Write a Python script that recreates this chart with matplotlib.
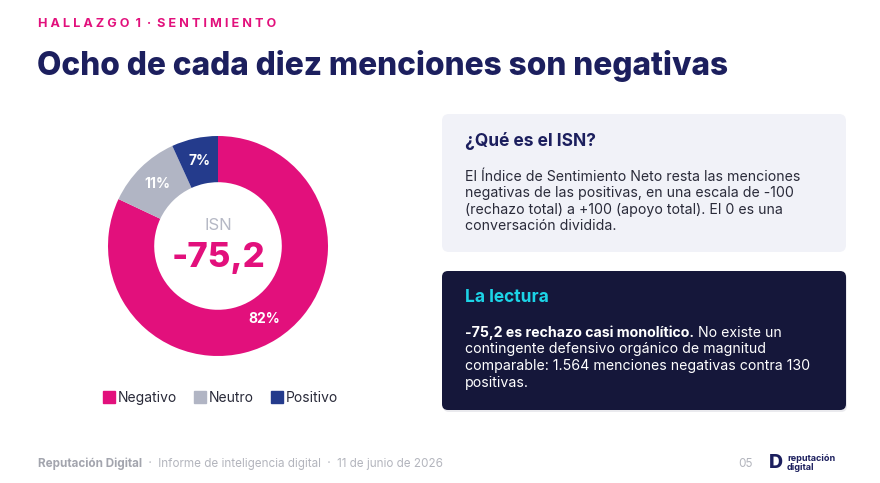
import matplotlib
matplotlib.use('Agg')
from matplotlib import pyplot as plt
from matplotlib.patches import FancyBboxPatch
from matplotlib.lines import Line2D

plt.rcParams['font.family'] = ['Inter', 'DejaVu Sans']

# data
categories = ['Negativo', 'Neutro', 'Positivo']
mentions = [1564, 213, 130]
pct_labels = ['82%', '11%', '7%']
isn_value = '-75,2'
colors = ['#E2107C', '#B1B5C4', '#243B8C']

PINK = '#E2107C'
NAVY = '#1C1F5E'
DARK = '#15173A'
GREY = '#A9ABB5'

fig = plt.figure(figsize=(8.8, 4.83), dpi=100)
fig.patch.set_facecolor('white')

# background axes in pixel coords
bg = fig.add_axes([0, 0, 1, 1])
bg.set_xlim(0, 880)
bg.set_ylim(483, 0)
bg.axis('off')

bg.text(38, 24, 'H A L L A Z G O  1  ·  S E N T I M I E N T O', color=PINK, fontsize=9.1,
        fontweight='bold', va='center', ha='left')
bg.text(37, 66, 'Ocho de cada diez menciones son negativas', color=NAVY, fontsize=22.8,
        fontweight='heavy', va='center', ha='left')

# cards
card1 = FancyBboxPatch((442, 114), 404, 138, boxstyle='round,pad=0,rounding_size=7',
                       fc='#F1F2F8', ec='none')
bg.add_patch(card1)
shadow = FancyBboxPatch((443, 273), 404, 139, boxstyle='round,pad=0,rounding_size=6',
                        fc='#DDDDE3', ec='none', alpha=0.6)
bg.add_patch(shadow)
card2 = FancyBboxPatch((442, 271), 404, 139, boxstyle='round,pad=0,rounding_size=6',
                       fc=DARK, ec='none')
bg.add_patch(card2)

bg.text(465, 141, '¿Qué es el ISN?', color=NAVY, fontsize=12.5, fontweight='bold', va='center')
body1 = ['El Índice de Sentimiento Neto resta las menciones',
         'negativas de las positivas, en una escala de -100',
         '(rechazo total) a +100 (apoyo total). El 0 es una',
         'conversación dividida.']
for i, line in enumerate(body1):
    bg.text(465, 177 + i * 16.5, line, color='#2A2B3A', fontsize=10.2, va='center')

bg.text(465, 298, 'La lectura', color='#1CD3E6', fontsize=12.5, fontweight='bold', va='center')
t = bg.text(465, 333, '-75,2 es rechazo casi monolítico.', color='white', fontsize=10.2,
            fontweight='bold', va='center')
bg.annotate(' No existe un', xy=(1, 0.5), xycoords=t, color='white', fontsize=10.2,
            va='center', ha='left')
body2 = ['contingente defensivo orgánico de magnitud',
         'comparable: 1.564 menciones negativas contra 130',
         'positivas.']
for i, line in enumerate(body2):
    bg.text(465, 349.5 + i * 16.5, line, color='white', fontsize=10.2, va='center')

# footer
f1 = bg.text(38, 464, 'Reputación Digital', color='#A3A5AE', fontsize=8.4, fontweight='bold',
             va='center')
bg.annotate('  ·  Informe de inteligencia digital  ·  11 de junio de 2026', xy=(1, 0.5),
            xycoords=f1, color='#B3B5BD', fontsize=8.4, va='center')
bg.text(738, 464, '05', color='#B3B5BD', fontsize=8.4, va='center')
bg.text(776, 463, 'D', color=NAVY, fontsize=14, fontweight='heavy', va='center', ha='center')
bg.text(787, 463, 'reputación\ndigital', color=NAVY, fontsize=6.5, fontweight='bold',
        va='center', ha='left', linespacing=0.9)

# donut
ax = fig.add_axes([108 / 880, (483 - 356) / 483, 220 / 880, 220 / 483])
wedges, texts, autotexts = ax.pie(mentions, colors=colors, startangle=90, counterclock=False,
                                  wedgeprops=dict(width=0.42, edgecolor='none'),
                                  autopct=lambda p: '', pctdistance=0.79, radius=1)
for at, lab in zip(autotexts, pct_labels):
    at.set_text(lab)
    at.set_color('white')
    at.set_fontsize(10)
    at.set_fontweight('bold')
ax.set_xlim(-1, 1)
ax.set_ylim(-1, 1)
ax.set_aspect('equal')
ax.text(0, 0.19, 'ISN', color='#B5B8C5', fontsize=12, ha='center', va='center')
ax.text(0, -0.11, isn_value, color=PINK, fontsize=25, fontweight='heavy', ha='center',
        va='center')

handles = [Line2D([], [], marker='s', linestyle='none', markersize=8, color=c) for c in colors]
fig.legend(handles, categories, loc='center', bbox_to_anchor=(220 / 880, 1 - 398 / 483),
           ncol=3, frameon=False, fontsize=10, handletextpad=0.1, columnspacing=1.2,
           labelcolor='#2A2B3A', handlelength=1.0)

fig.savefig('out.png', dpi=100, facecolor='white')
